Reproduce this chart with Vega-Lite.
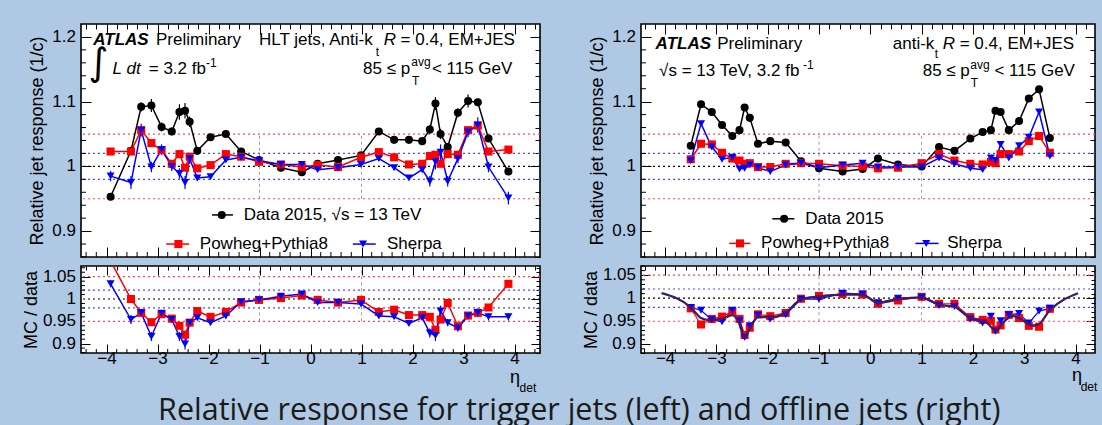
{
  "$schema": "https://vega.github.io/schema/vega-lite/v6.json",
  "background": "#afc8e3",
  "padding": {"left": 22, "top": 22, "right": 8, "bottom": 1},
  "spacing": 40,
  "title": {"text": "Relative response for trigger jets (left) and offline jets (right)", "orient": "bottom", "anchor": "start", "frame": "bounds", "dx": 136, "offset": 1, "font": "Open Sans", "fontSize": 30.5, "fontWeight": "normal", "color": "#1a1a1a"},
  "config": {
    "view": {"fill": "white", "stroke": "black", "strokeWidth": 1.6},
    "axis": {"grid": false, "domain": false, "labelFont": "Liberation Sans", "labelFontSize": 17, "labelColor": "black", "titleFont": "Liberation Sans", "titleFontSize": 18, "titleFontWeight": "normal", "titleColor": "black", "tickColor": "black", "tickWidth": 1, "labelOverlap": false, "labelFlush": false, "labelBound": false},
    "text": {"font": "Liberation Sans", "fontSize": 17, "color": "black", "align": "left", "baseline": "alphabetic"},
    "rule": {"color": "black", "strokeWidth": 1}
  },
  "datasets": {
    "mx": [{"t": -4.4}, {"t": -4.2}, {"t": -3.8}, {"t": -3.6}, {"t": -3.4}, {"t": -3.2}, {"t": -2.8}, {"t": -2.6}, {"t": -2.4}, {"t": -2.2}, {"t": -1.8}, {"t": -1.6}, {"t": -1.4}, {"t": -1.2}, {"t": -0.8}, {"t": -0.6}, {"t": -0.4}, {"t": -0.2}, {"t": 0.2}, {"t": 0.4}, {"t": 0.6}, {"t": 0.8}, {"t": 1.2}, {"t": 1.4}, {"t": 1.6}, {"t": 1.8}, {"t": 2.2}, {"t": 2.4}, {"t": 2.6}, {"t": 2.8}, {"t": 3.2}, {"t": 3.4}, {"t": 3.6}, {"t": 3.8}, {"t": 4.2}, {"t": 4.4}],
    "mxr": [{"t": -4.4}, {"t": -4.2}, {"t": -3.8}, {"t": -3.6}, {"t": -3.4}, {"t": -3.2}, {"t": -2.8}, {"t": -2.6}, {"t": -2.4}, {"t": -2.2}, {"t": -1.8}, {"t": -1.6}, {"t": -1.4}, {"t": -1.2}, {"t": -0.8}, {"t": -0.6}, {"t": -0.4}, {"t": -0.2}, {"t": 0.2}, {"t": 0.4}, {"t": 0.6}, {"t": 0.8}, {"t": 1.2}, {"t": 1.4}, {"t": 1.6}, {"t": 1.8}, {"t": 2.2}, {"t": 2.4}, {"t": 2.6}, {"t": 2.8}, {"t": 3.2}, {"t": 3.4}, {"t": 3.6}, {"t": 3.8}, {"t": 4.2}],
    "myt": [{"t": 0.86}, {"t": 0.88}, {"t": 0.92}, {"t": 0.94}, {"t": 0.96}, {"t": 0.98}, {"t": 1.02}, {"t": 1.04}, {"t": 1.06}, {"t": 1.08}, {"t": 1.12}, {"t": 1.14}, {"t": 1.16}, {"t": 1.18}],
    "myr": [{"t": 0.88}, {"t": 0.89}, {"t": 0.91}, {"t": 0.92}, {"t": 0.93}, {"t": 0.94}, {"t": 0.96}, {"t": 0.97}, {"t": 0.98}, {"t": 0.99}, {"t": 1.01}, {"t": 1.02}, {"t": 1.03}, {"t": 1.04}, {"t": 1.06}, {"t": 1.07}],
    "labt": [{"t": 0.9, "lab": "0.9"}, {"t": 1.0, "lab": "1"}, {"t": 1.1, "lab": "1.1"}, {"t": 1.2, "lab": "1.2"}],
    "labr": [{"t": 0.9, "lab": "0.9"}, {"t": 0.95, "lab": "0.95"}, {"t": 1.0, "lab": "1"}, {"t": 1.05, "lab": "1.05"}],
    "lt": [
      {"eta": -3.92, "series": "data", "val": 0.953, "err": 0.005},
      {"eta": -3.52, "series": "data", "val": 1.024, "err": 0.004},
      {"eta": -3.32, "series": "data", "val": 1.092, "err": 0.007},
      {"eta": -3.12, "series": "data", "val": 1.094, "err": 0.01},
      {"eta": -2.92, "series": "data", "val": 1.061, "err": 0.007},
      {"eta": -2.72, "series": "data", "val": 1.054, "err": 0.006},
      {"eta": -2.57, "series": "data", "val": 1.084, "err": 0.012},
      {"eta": -2.46, "series": "data", "val": 1.086, "err": 0.012},
      {"eta": -2.37, "series": "data", "val": 1.069, "err": 0.008},
      {"eta": -2.22, "series": "data", "val": 1.024, "err": 0.004},
      {"eta": -1.96, "series": "data", "val": 1.045, "err": 0.003},
      {"eta": -1.66, "series": "data", "val": 1.05, "err": 0.003},
      {"eta": -1.36, "series": "data", "val": 1.023, "err": 0.003},
      {"eta": -1.01, "series": "data", "val": 1.01, "err": 0.002},
      {"eta": -0.58, "series": "data", "val": 0.998, "err": 0.002},
      {"eta": -0.17, "series": "data", "val": 0.991, "err": 0.002},
      {"eta": 0.14, "series": "data", "val": 1.004, "err": 0.002},
      {"eta": 0.54, "series": "data", "val": 1.01, "err": 0.002},
      {"eta": 0.99, "series": "data", "val": 1.017, "err": 0.002},
      {"eta": 1.34, "series": "data", "val": 1.054, "err": 0.003},
      {"eta": 1.64, "series": "data", "val": 1.041, "err": 0.003},
      {"eta": 1.93, "series": "data", "val": 1.041, "err": 0.003},
      {"eta": 2.19, "series": "data", "val": 1.039, "err": 0.003},
      {"eta": 2.34, "series": "data", "val": 1.057, "err": 0.007},
      {"eta": 2.45, "series": "data", "val": 1.097, "err": 0.01},
      {"eta": 2.55, "series": "data", "val": 1.05, "err": 0.008},
      {"eta": 2.69, "series": "data", "val": 1.03, "err": 0.006},
      {"eta": 2.89, "series": "data", "val": 1.083, "err": 0.007},
      {"eta": 3.09, "series": "data", "val": 1.101, "err": 0.01},
      {"eta": 3.28, "series": "data", "val": 1.099, "err": 0.006},
      {"eta": 3.49, "series": "data", "val": 1.043, "err": 0.004},
      {"eta": 3.88, "series": "data", "val": 0.992, "err": 0.004},
      {"eta": -3.92, "series": "powheg", "val": 1.023, "err": 0.002},
      {"eta": -3.52, "series": "powheg", "val": 1.023, "err": 0.002},
      {"eta": -3.32, "series": "powheg", "val": 1.056, "err": 0.003},
      {"eta": -3.12, "series": "powheg", "val": 1.036, "err": 0.002},
      {"eta": -2.92, "series": "powheg", "val": 1.025, "err": 0.002},
      {"eta": -2.72, "series": "powheg", "val": 1.004, "err": 0.002},
      {"eta": -2.57, "series": "powheg", "val": 1.019, "err": 0.002},
      {"eta": -2.46, "series": "powheg", "val": 0.998, "err": 0.003},
      {"eta": -2.37, "series": "powheg", "val": 1.015, "err": 0.002},
      {"eta": -2.22, "series": "powheg", "val": 0.997, "err": 0.002},
      {"eta": -1.96, "series": "powheg", "val": 1.002, "err": 0.002},
      {"eta": -1.66, "series": "powheg", "val": 1.019, "err": 0.002},
      {"eta": -1.36, "series": "powheg", "val": 1.015, "err": 0.002},
      {"eta": -1.01, "series": "powheg", "val": 1.007, "err": 0.002},
      {"eta": -0.58, "series": "powheg", "val": 1.003, "err": 0.002},
      {"eta": -0.17, "series": "powheg", "val": 0.999, "err": 0.002},
      {"eta": 0.14, "series": "powheg", "val": 1.002, "err": 0.002},
      {"eta": 0.54, "series": "powheg", "val": 0.999, "err": 0.002},
      {"eta": 0.99, "series": "powheg", "val": 1.014, "err": 0.002},
      {"eta": 1.34, "series": "powheg", "val": 1.022, "err": 0.002},
      {"eta": 1.64, "series": "powheg", "val": 1.014, "err": 0.002},
      {"eta": 1.93, "series": "powheg", "val": 1.003, "err": 0.002},
      {"eta": 2.19, "series": "powheg", "val": 1.004, "err": 0.002},
      {"eta": 2.34, "series": "powheg", "val": 1.016, "err": 0.003},
      {"eta": 2.45, "series": "powheg", "val": 1.018, "err": 0.003},
      {"eta": 2.55, "series": "powheg", "val": 1.004, "err": 0.003},
      {"eta": 2.69, "series": "powheg", "val": 1.019, "err": 0.002},
      {"eta": 2.89, "series": "powheg", "val": 1.018, "err": 0.002},
      {"eta": 3.09, "series": "powheg", "val": 1.056, "err": 0.003},
      {"eta": 3.28, "series": "powheg", "val": 1.063, "err": 0.003},
      {"eta": 3.49, "series": "powheg", "val": 1.023, "err": 0.002},
      {"eta": 3.88, "series": "powheg", "val": 1.026, "err": 0.002},
      {"eta": -3.92, "series": "sherpa", "val": 0.985, "err": 0.008},
      {"eta": -3.52, "series": "sherpa", "val": 0.975, "err": 0.01},
      {"eta": -3.32, "series": "sherpa", "val": 1.056, "err": 0.01},
      {"eta": -3.12, "series": "sherpa", "val": 0.999, "err": 0.008},
      {"eta": -2.92, "series": "sherpa", "val": 1.026, "err": 0.008},
      {"eta": -2.72, "series": "sherpa", "val": 1.0, "err": 0.007},
      {"eta": -2.57, "series": "sherpa", "val": 0.989, "err": 0.008},
      {"eta": -2.46, "series": "sherpa", "val": 0.975, "err": 0.01},
      {"eta": -2.37, "series": "sherpa", "val": 1.012, "err": 0.008},
      {"eta": -2.22, "series": "sherpa", "val": 0.982, "err": 0.004},
      {"eta": -1.96, "series": "sherpa", "val": 0.984, "err": 0.003},
      {"eta": -1.66, "series": "sherpa", "val": 1.01, "err": 0.003},
      {"eta": -1.36, "series": "sherpa", "val": 1.014, "err": 0.003},
      {"eta": -1.01, "series": "sherpa", "val": 1.009, "err": 0.002},
      {"eta": -0.58, "series": "sherpa", "val": 1.003, "err": 0.002},
      {"eta": -0.17, "series": "sherpa", "val": 1.003, "err": 0.002},
      {"eta": 0.14, "series": "sherpa", "val": 0.995, "err": 0.002},
      {"eta": 0.54, "series": "sherpa", "val": 0.998, "err": 0.002},
      {"eta": 0.99, "series": "sherpa", "val": 1.003, "err": 0.002},
      {"eta": 1.34, "series": "sherpa", "val": 1.012, "err": 0.003},
      {"eta": 1.64, "series": "sherpa", "val": 0.998, "err": 0.003},
      {"eta": 1.93, "series": "sherpa", "val": 0.982, "err": 0.003},
      {"eta": 2.19, "series": "sherpa", "val": 0.995, "err": 0.004},
      {"eta": 2.34, "series": "sherpa", "val": 0.977, "err": 0.008},
      {"eta": 2.45, "series": "sherpa", "val": 1.007, "err": 0.012},
      {"eta": 2.55, "series": "sherpa", "val": 1.022, "err": 0.012},
      {"eta": 2.69, "series": "sherpa", "val": 0.977, "err": 0.008},
      {"eta": 2.89, "series": "sherpa", "val": 1.012, "err": 0.007},
      {"eta": 3.09, "series": "sherpa", "val": 1.053, "err": 0.008},
      {"eta": 3.28, "series": "sherpa", "val": 1.064, "err": 0.012},
      {"eta": 3.49, "series": "sherpa", "val": 0.999, "err": 0.008},
      {"eta": 3.88, "series": "sherpa", "val": 0.951, "err": 0.01}
    ],
    "lr": [
      {"eta": -3.92, "series": "powheg", "val": 1.085, "err": 0.005},
      {"eta": -3.52, "series": "powheg", "val": 1.0, "err": 0.005},
      {"eta": -3.32, "series": "powheg", "val": 0.969, "err": 0.005},
      {"eta": -3.12, "series": "powheg", "val": 0.948, "err": 0.006},
      {"eta": -2.92, "series": "powheg", "val": 0.966, "err": 0.005},
      {"eta": -2.72, "series": "powheg", "val": 0.956, "err": 0.005},
      {"eta": -2.57, "series": "powheg", "val": 0.94, "err": 0.007},
      {"eta": -2.46, "series": "powheg", "val": 0.92, "err": 0.009},
      {"eta": -2.37, "series": "powheg", "val": 0.947, "err": 0.006},
      {"eta": -2.22, "series": "powheg", "val": 0.973, "err": 0.004},
      {"eta": -1.96, "series": "powheg", "val": 0.96, "err": 0.003},
      {"eta": -1.66, "series": "powheg", "val": 0.971, "err": 0.003},
      {"eta": -1.36, "series": "powheg", "val": 0.992, "err": 0.003},
      {"eta": -1.01, "series": "powheg", "val": 0.998, "err": 0.003},
      {"eta": -0.58, "series": "powheg", "val": 1.002, "err": 0.003},
      {"eta": -0.17, "series": "powheg", "val": 1.008, "err": 0.003},
      {"eta": 0.14, "series": "powheg", "val": 0.998, "err": 0.003},
      {"eta": 0.54, "series": "powheg", "val": 0.992, "err": 0.003},
      {"eta": 0.99, "series": "powheg", "val": 0.998, "err": 0.003},
      {"eta": 1.34, "series": "powheg", "val": 0.971, "err": 0.003},
      {"eta": 1.64, "series": "powheg", "val": 0.976, "err": 0.003},
      {"eta": 1.93, "series": "powheg", "val": 0.964, "err": 0.003},
      {"eta": 2.19, "series": "powheg", "val": 0.964, "err": 0.004},
      {"eta": 2.34, "series": "powheg", "val": 0.96, "err": 0.006},
      {"eta": 2.45, "series": "powheg", "val": 0.931, "err": 0.008},
      {"eta": 2.55, "series": "powheg", "val": 0.954, "err": 0.007},
      {"eta": 2.69, "series": "powheg", "val": 0.991, "err": 0.006},
      {"eta": 2.89, "series": "powheg", "val": 0.939, "err": 0.006},
      {"eta": 3.09, "series": "powheg", "val": 0.963, "err": 0.007},
      {"eta": 3.28, "series": "powheg", "val": 0.969, "err": 0.006},
      {"eta": 3.49, "series": "powheg", "val": 0.981, "err": 0.004},
      {"eta": 3.88, "series": "powheg", "val": 1.034, "err": 0.004},
      {"eta": -3.92, "series": "sherpa", "val": 1.034, "err": 0.008},
      {"eta": -3.52, "series": "sherpa", "val": 0.954, "err": 0.01},
      {"eta": -3.32, "series": "sherpa", "val": 0.969, "err": 0.006},
      {"eta": -3.12, "series": "sherpa", "val": 0.916, "err": 0.01},
      {"eta": -2.92, "series": "sherpa", "val": 0.968, "err": 0.007},
      {"eta": -2.72, "series": "sherpa", "val": 0.954, "err": 0.007},
      {"eta": -2.57, "series": "sherpa", "val": 0.916, "err": 0.01},
      {"eta": -2.46, "series": "sherpa", "val": 0.899, "err": 0.012},
      {"eta": -2.37, "series": "sherpa", "val": 0.947, "err": 0.008},
      {"eta": -2.22, "series": "sherpa", "val": 0.958, "err": 0.005},
      {"eta": -1.96, "series": "sherpa", "val": 0.947, "err": 0.004},
      {"eta": -1.66, "series": "sherpa", "val": 0.962, "err": 0.004},
      {"eta": -1.36, "series": "sherpa", "val": 0.994, "err": 0.003},
      {"eta": -1.01, "series": "sherpa", "val": 0.998, "err": 0.003},
      {"eta": -0.58, "series": "sherpa", "val": 1.006, "err": 0.003},
      {"eta": -0.17, "series": "sherpa", "val": 1.011, "err": 0.003},
      {"eta": 0.14, "series": "sherpa", "val": 0.992, "err": 0.003},
      {"eta": 0.54, "series": "sherpa", "val": 0.992, "err": 0.003},
      {"eta": 0.99, "series": "sherpa", "val": 0.989, "err": 0.003},
      {"eta": 1.34, "series": "sherpa", "val": 0.962, "err": 0.004},
      {"eta": 1.64, "series": "sherpa", "val": 0.96, "err": 0.004},
      {"eta": 1.93, "series": "sherpa", "val": 0.945, "err": 0.004},
      {"eta": 2.19, "series": "sherpa", "val": 0.958, "err": 0.005},
      {"eta": 2.34, "series": "sherpa", "val": 0.924, "err": 0.01},
      {"eta": 2.45, "series": "sherpa", "val": 0.918, "err": 0.012},
      {"eta": 2.55, "series": "sherpa", "val": 0.973, "err": 0.012},
      {"eta": 2.69, "series": "sherpa", "val": 0.947, "err": 0.008},
      {"eta": 2.89, "series": "sherpa", "val": 0.935, "err": 0.008},
      {"eta": 3.09, "series": "sherpa", "val": 0.962, "err": 0.008},
      {"eta": 3.28, "series": "sherpa", "val": 0.969, "err": 0.01},
      {"eta": 3.49, "series": "sherpa", "val": 0.96, "err": 0.008},
      {"eta": 3.88, "series": "sherpa", "val": 0.96, "err": 0.008}
    ],
    "rt": [
      {"eta": -3.5, "series": "data", "val": 1.032}, {"eta": -3.3, "series": "data", "val": 1.096}, {"eta": -3.09, "series": "data", "val": 1.084}, {"eta": -2.89, "series": "data", "val": 1.064}, {"eta": -2.69, "series": "data", "val": 1.047}, {"eta": -2.55, "series": "data", "val": 1.056}, {"eta": -2.45, "series": "data", "val": 1.091}, {"eta": -2.35, "series": "data", "val": 1.075}, {"eta": -2.19, "series": "data", "val": 1.035}, {"eta": -1.95, "series": "data", "val": 1.039}, {"eta": -1.65, "series": "data", "val": 1.037}, {"eta": -1.35, "series": "data", "val": 1.008}, {"eta": -1.0, "series": "data", "val": 0.997}, {"eta": -0.54, "series": "data", "val": 0.992}, {"eta": -0.15, "series": "data", "val": 0.996}, {"eta": 0.15, "series": "data", "val": 1.012}, {"eta": 0.54, "series": "data", "val": 1.003}, {"eta": 1.0, "series": "data", "val": 1.0}, {"eta": 1.34, "series": "data", "val": 1.03}, {"eta": 1.64, "series": "data", "val": 1.024}, {"eta": 1.95, "series": "data", "val": 1.043}, {"eta": 2.19, "series": "data", "val": 1.053}, {"eta": 2.35, "series": "data", "val": 1.056}, {"eta": 2.44, "series": "data", "val": 1.086}, {"eta": 2.54, "series": "data", "val": 1.084}, {"eta": 2.7, "series": "data", "val": 1.056}, {"eta": 2.9, "series": "data", "val": 1.07}, {"eta": 3.09, "series": "data", "val": 1.105}, {"eta": 3.29, "series": "data", "val": 1.119}, {"eta": 3.5, "series": "data", "val": 1.044},
      {"eta": -3.5, "series": "powheg", "val": 1.011}, {"eta": -3.3, "series": "powheg", "val": 1.035}, {"eta": -3.09, "series": "powheg", "val": 1.034}, {"eta": -2.89, "series": "powheg", "val": 1.021}, {"eta": -2.69, "series": "powheg", "val": 1.012}, {"eta": -2.55, "series": "powheg", "val": 1.009}, {"eta": -2.45, "series": "powheg", "val": 1.004}, {"eta": -2.35, "series": "powheg", "val": 1.005}, {"eta": -2.19, "series": "powheg", "val": 0.999}, {"eta": -1.95, "series": "powheg", "val": 0.999}, {"eta": -1.65, "series": "powheg", "val": 1.004}, {"eta": -1.35, "series": "powheg", "val": 1.005}, {"eta": -1.0, "series": "powheg", "val": 1.004}, {"eta": -0.54, "series": "powheg", "val": 1.001}, {"eta": -0.15, "series": "powheg", "val": 1.0}, {"eta": 0.15, "series": "powheg", "val": 0.997}, {"eta": 0.54, "series": "powheg", "val": 0.998}, {"eta": 1.0, "series": "powheg", "val": 1.005}, {"eta": 1.34, "series": "powheg", "val": 1.019}, {"eta": 1.64, "series": "powheg", "val": 1.009}, {"eta": 1.95, "series": "powheg", "val": 1.004}, {"eta": 2.19, "series": "powheg", "val": 1.003}, {"eta": 2.35, "series": "powheg", "val": 1.007}, {"eta": 2.44, "series": "powheg", "val": 1.005}, {"eta": 2.54, "series": "powheg", "val": 1.019}, {"eta": 2.7, "series": "powheg", "val": 1.019}, {"eta": 2.9, "series": "powheg", "val": 1.023}, {"eta": 3.09, "series": "powheg", "val": 1.039}, {"eta": 3.29, "series": "powheg", "val": 1.047}, {"eta": 3.5, "series": "powheg", "val": 1.021},
      {"eta": -3.5, "series": "sherpa", "val": 1.009}, {"eta": -3.3, "series": "sherpa", "val": 1.066}, {"eta": -3.09, "series": "sherpa", "val": 1.03}, {"eta": -2.89, "series": "sherpa", "val": 1.011}, {"eta": -2.69, "series": "sherpa", "val": 1.014}, {"eta": -2.55, "series": "sherpa", "val": 0.996}, {"eta": -2.45, "series": "sherpa", "val": 0.997}, {"eta": -2.35, "series": "sherpa", "val": 1.002}, {"eta": -2.19, "series": "sherpa", "val": 0.998}, {"eta": -1.95, "series": "sherpa", "val": 0.992}, {"eta": -1.65, "series": "sherpa", "val": 1.002}, {"eta": -1.35, "series": "sherpa", "val": 1.005}, {"eta": -1.0, "series": "sherpa", "val": 0.998}, {"eta": -0.54, "series": "sherpa", "val": 1.002}, {"eta": -0.15, "series": "sherpa", "val": 1.005}, {"eta": 0.15, "series": "sherpa", "val": 0.999}, {"eta": 0.54, "series": "sherpa", "val": 0.999}, {"eta": 1.0, "series": "sherpa", "val": 0.999}, {"eta": 1.34, "series": "sherpa", "val": 1.013}, {"eta": 1.64, "series": "sherpa", "val": 1.004}, {"eta": 1.95, "series": "sherpa", "val": 0.997}, {"eta": 2.19, "series": "sherpa", "val": 0.995}, {"eta": 2.35, "series": "sherpa", "val": 1.013}, {"eta": 2.44, "series": "sherpa", "val": 1.009}, {"eta": 2.54, "series": "sherpa", "val": 1.034}, {"eta": 2.7, "series": "sherpa", "val": 1.013}, {"eta": 2.9, "series": "sherpa", "val": 1.032}, {"eta": 3.09, "series": "sherpa", "val": 1.045}, {"eta": 3.29, "series": "sherpa", "val": 1.084}, {"eta": 3.5, "series": "sherpa", "val": 1.016}
    ],
    "rr": [
      {"eta": -3.5, "series": "powheg", "val": 0.978}, {"eta": -3.3, "series": "powheg", "val": 0.943}, {"eta": -3.09, "series": "powheg", "val": 0.955}, {"eta": -2.89, "series": "powheg", "val": 0.96}, {"eta": -2.69, "series": "powheg", "val": 0.971}, {"eta": -2.55, "series": "powheg", "val": 0.955}, {"eta": -2.45, "series": "powheg", "val": 0.92}, {"eta": -2.35, "series": "powheg", "val": 0.936}, {"eta": -2.19, "series": "powheg", "val": 0.965}, {"eta": -1.95, "series": "powheg", "val": 0.961}, {"eta": -1.65, "series": "powheg", "val": 0.968}, {"eta": -1.35, "series": "powheg", "val": 0.999}, {"eta": -1.0, "series": "powheg", "val": 1.005}, {"eta": -0.54, "series": "powheg", "val": 1.009}, {"eta": -0.15, "series": "powheg", "val": 1.008}, {"eta": 0.15, "series": "powheg", "val": 0.988}, {"eta": 0.54, "series": "powheg", "val": 0.995}, {"eta": 1.0, "series": "powheg", "val": 1.003}, {"eta": 1.34, "series": "powheg", "val": 0.988}, {"eta": 1.64, "series": "powheg", "val": 0.988}, {"eta": 1.95, "series": "powheg", "val": 0.959}, {"eta": 2.19, "series": "powheg", "val": 0.953}, {"eta": 2.35, "series": "powheg", "val": 0.951}, {"eta": 2.44, "series": "powheg", "val": 0.932}, {"eta": 2.54, "series": "powheg", "val": 0.941}, {"eta": 2.7, "series": "powheg", "val": 0.964}, {"eta": 2.9, "series": "powheg", "val": 0.957}, {"eta": 3.09, "series": "powheg", "val": 0.94}, {"eta": 3.29, "series": "powheg", "val": 0.938}, {"eta": 3.5, "series": "powheg", "val": 0.977},
      {"eta": -3.5, "series": "sherpa", "val": 0.98}, {"eta": -3.3, "series": "sherpa", "val": 0.974}, {"eta": -3.09, "series": "sherpa", "val": 0.953}, {"eta": -2.89, "series": "sherpa", "val": 0.949}, {"eta": -2.69, "series": "sherpa", "val": 0.974}, {"eta": -2.55, "series": "sherpa", "val": 0.951}, {"eta": -2.45, "series": "sherpa", "val": 0.915}, {"eta": -2.35, "series": "sherpa", "val": 0.94}, {"eta": -2.19, "series": "sherpa", "val": 0.963}, {"eta": -1.95, "series": "sherpa", "val": 0.955}, {"eta": -1.65, "series": "sherpa", "val": 0.964}, {"eta": -1.35, "series": "sherpa", "val": 0.998}, {"eta": -1.0, "series": "sherpa", "val": 0.998}, {"eta": -0.54, "series": "sherpa", "val": 1.011}, {"eta": -0.15, "series": "sherpa", "val": 1.009}, {"eta": 0.15, "series": "sherpa", "val": 0.99}, {"eta": 0.54, "series": "sherpa", "val": 1.0}, {"eta": 1.0, "series": "sherpa", "val": 1.002}, {"eta": 1.34, "series": "sherpa", "val": 0.984}, {"eta": 1.64, "series": "sherpa", "val": 0.982}, {"eta": 1.95, "series": "sherpa", "val": 0.955}, {"eta": 2.19, "series": "sherpa", "val": 0.946}, {"eta": 2.35, "series": "sherpa", "val": 0.961}, {"eta": 2.44, "series": "sherpa", "val": 0.928}, {"eta": 2.54, "series": "sherpa", "val": 0.951}, {"eta": 2.7, "series": "sherpa", "val": 0.964}, {"eta": 2.9, "series": "sherpa", "val": 0.967}, {"eta": 3.09, "series": "sherpa", "val": 0.946}, {"eta": 3.29, "series": "sherpa", "val": 0.972}, {"eta": 3.5, "series": "sherpa", "val": 0.978}
    ],
    "rfit": [
      {"eta": -4.07, "val": 1.011}, {"eta": -3.5, "val": 0.98}, {"eta": -3.3, "val": 0.957}, {"eta": -3.17, "val": 0.953}, {"eta": -2.89, "val": 0.955}, {"eta": -2.69, "val": 0.963}, {"eta": -2.58, "val": 0.951}, {"eta": -2.45, "val": 0.916}, {"eta": -2.32, "val": 0.94}, {"eta": -2.19, "val": 0.959}, {"eta": -1.93, "val": 0.959}, {"eta": -1.67, "val": 0.967}, {"eta": -1.34, "val": 0.998}, {"eta": -0.99, "val": 1.004}, {"eta": -0.54, "val": 1.008}, {"eta": -0.15, "val": 1.008}, {"eta": 0.14, "val": 0.99}, {"eta": 0.54, "val": 0.998}, {"eta": 1.0, "val": 1.002}, {"eta": 1.34, "val": 0.986}, {"eta": 1.63, "val": 0.982}, {"eta": 1.95, "val": 0.957}, {"eta": 2.25, "val": 0.949}, {"eta": 2.45, "val": 0.929}, {"eta": 2.58, "val": 0.946}, {"eta": 2.78, "val": 0.961}, {"eta": 2.97, "val": 0.953}, {"eta": 3.14, "val": 0.941}, {"eta": 3.27, "val": 0.943}, {"eta": 3.5, "val": 0.974}, {"eta": 4.05, "val": 1.011}
    ],
    "legl": [
      {"series": "data", "eta": -1.93, "eta2": -1.52, "mid": -1.74, "val": 0.925, "tx": -1.31, "label": "Data 2015, √s = 13 TeV"},
      {"series": "powheg", "eta": -2.83, "eta2": -2.38, "mid": -2.59, "val": 0.88, "tx": -2.17, "label": "Powheg+Pythia8"},
      {"series": "sherpa", "eta": 0.83, "eta2": 1.28, "mid": 1.03, "val": 0.88, "tx": 1.5, "label": "Sherpa"}
    ],
    "legr": [
      {"series": "data", "eta": -1.91, "eta2": -1.48, "mid": -1.68, "val": 0.919, "tx": -1.27, "label": "Data 2015"},
      {"series": "powheg", "eta": -2.75, "eta2": -2.34, "mid": -2.54, "val": 0.881, "tx": -2.13, "label": "Powheg+Pythia8"},
      {"series": "sherpa", "eta": 0.88, "eta2": 1.33, "mid": 1.09, "val": 0.881, "tx": 1.5, "label": "Sherpa"}
    ]
  },
  "hconcat": [
    {
      "spacing": 9,
      "bounds": "flush",
      "vconcat": [
        {
          "width": 459, "height": 233,
          "layer": [
            {
              "layer": [
                {"data": {"values": [{"val": 1.05}, {"val": 0.95}]}, "mark": {"type": "rule", "color": "#ff4a4a", "strokeDash": [2, 3], "strokeWidth": 1.2},
                 "encoding": {"y": {"field": "val", "type": "quantitative", "scale": {"domain": [0.86, 1.22], "nice": false, "zero": false},
                   "axis": {"orient": "left", "title": "Relative jet response (1/c)", "titlePadding": 16, "labelPadding": 5, "labelOpacity": 0,
                     "values": [0.9, 1, 1.1, 1.2], "labelExpr": "format(datum.value,'~g')", "tickSize": -10}}}},
                {"data": {"values": [{"val": 1.02}, {"val": 0.98}]}, "mark": {"type": "rule", "color": "#4a4aff", "strokeDash": [2, 3], "strokeWidth": 1.2},
                 "encoding": {"y": {"field": "val", "type": "quantitative"}}},
                {"data": {"values": [{"val": 1.0}]}, "mark": {"type": "rule", "color": "#000000", "strokeDash": [2, 3], "strokeWidth": 1.2},
                 "encoding": {"y": {"field": "val", "type": "quantitative"}}},
                {"data": {"values": [{"eta": -1}, {"eta": 1}]}, "mark": {"type": "rule", "color": "#888888", "strokeDash": [3, 3], "strokeWidth": 0.8},
                 "encoding": {"x": {"field": "eta", "type": "quantitative", "scale": {"domain": [-4.5, 4.5], "nice": false, "zero": false},
                   "axis": {"orient": "bottom", "title": null, "labels": false, "values": [-4, -3, -2, -1, 0, 1, 2, 3, 4], "tickSize": -10}},
                   "y": {"datum": 0.95, "type": "quantitative"}, "y2": {"datum": 1.05}}},
                {"data": {"name": "mx"}, "mark": {"type": "rule"},
                 "encoding": {"x": {"field": "t", "type": "quantitative"}, "y": {"datum": 0.86, "type": "quantitative"}, "y2": {"datum": 0.8677}}},
                {"data": {"name": "myt"}, "mark": {"type": "rule"},
                 "encoding": {"y": {"field": "t", "type": "quantitative"}, "x": {"datum": -4.5, "type": "quantitative"}, "x2": {"datum": -4.402}}},
                {"data": {"name": "labt"}, "mark": {"type": "text", "align": "right", "baseline": "middle", "dx": -5},
                 "encoding": {"y": {"field": "t", "type": "quantitative"}, "x": {"datum": -4.5, "type": "quantitative"}, "text": {"field": "lab"}}},
                {"data": {"name": "lt"}, "mark": {"type": "errorbar", "thickness": 1.2},
                 "encoding": {"x": {"field": "eta", "type": "quantitative", "title": null}, "y": {"field": "val", "type": "quantitative", "title": "Relative jet response (1/c)"}, "yError": {"field": "err"},
                   "color": {"field": "series", "type": "nominal", "scale": {"domain": ["data", "powheg", "sherpa"], "range": ["#000000", "#ff0000", "#0000ff"]}, "legend": null}}},
                {"data": {"name": "lt"}, "mark": {"type": "line", "strokeWidth": 1.5},
                 "encoding": {"x": {"field": "eta", "type": "quantitative"}, "y": {"field": "val", "type": "quantitative"},
                   "color": {"field": "series", "type": "nominal", "scale": {"domain": ["data", "powheg", "sherpa"], "range": ["#000000", "#ff0000", "#0000ff"]}, "legend": null}}},
                {"data": {"name": "lt"}, "mark": {"type": "point", "filled": true, "size": 65, "opacity": 1},
                 "encoding": {"x": {"field": "eta", "type": "quantitative"}, "y": {"field": "val", "type": "quantitative"},
                   "color": {"field": "series", "type": "nominal", "scale": {"domain": ["data", "powheg", "sherpa"], "range": ["#000000", "#ff0000", "#0000ff"]}, "legend": null},
                   "shape": {"field": "series", "type": "nominal", "scale": {"domain": ["data", "powheg", "sherpa"], "range": ["circle", "square", "triangle-down"]}, "legend": null}}},
                {"data": {"name": "legl"}, "mark": {"type": "rule", "strokeWidth": 1.5},
                 "encoding": {"x": {"field": "eta", "type": "quantitative"}, "x2": {"field": "eta2"}, "y": {"field": "val", "type": "quantitative"},
                   "color": {"field": "series", "type": "nominal", "scale": {"domain": ["data", "powheg", "sherpa"], "range": ["#000000", "#ff0000", "#0000ff"]}, "legend": null}}},
                {"data": {"name": "legl"}, "mark": {"type": "point", "filled": true, "size": 65, "opacity": 1},
                 "encoding": {"x": {"field": "mid", "type": "quantitative"}, "y": {"field": "val", "type": "quantitative"},
                   "color": {"field": "series", "type": "nominal", "scale": {"domain": ["data", "powheg", "sherpa"], "range": ["#000000", "#ff0000", "#0000ff"]}, "legend": null},
                   "shape": {"field": "series", "type": "nominal", "scale": {"domain": ["data", "powheg", "sherpa"], "range": ["circle", "square", "triangle-down"]}, "legend": null}}},
                {"data": {"name": "legl"}, "mark": {"type": "text", "baseline": "middle"},
                 "encoding": {"x": {"field": "tx", "type": "quantitative"}, "y": {"field": "val", "type": "quantitative"}, "text": {"field": "label"}}},
                {"data": {"values": [{"eta": -4.26, "val": 1.188, "t": "ATLAS"}]}, "mark": {"type": "text", "fontWeight": "bold", "fontStyle": "italic"},
                 "encoding": {"x": {"field": "eta", "type": "quantitative"}, "y": {"field": "val", "type": "quantitative"}, "text": {"field": "t"}}},
                {"data": {"values": [{"eta": -3.03, "val": 1.188, "t": "Preliminary"}, {"eta": -1.01, "val": 1.188, "t": "HLT jets, Anti-k"}, {"eta": 1.766, "val": 1.188, "t": "= 0.4, EM+JES"}, {"eta": -3.172, "val": 1.143, "t": "= 3.2 fb"}, {"eta": 1.03, "val": 1.143, "t": "85 ≤ p"}, {"eta": 2.38, "val": 1.143, "t": "< 115 GeV"}]},
                 "mark": {"type": "text"},
                 "encoding": {"x": {"field": "eta", "type": "quantitative"}, "y": {"field": "val", "type": "quantitative"}, "text": {"field": "t"}}},
                {"data": {"values": [{"eta": 1.438, "val": 1.188, "t": "R"}, {"eta": -3.88, "val": 1.143, "t": "L dt"}]},
                 "mark": {"type": "text", "fontStyle": "italic"},
                 "encoding": {"x": {"field": "eta", "type": "quantitative"}, "y": {"field": "val", "type": "quantitative"}, "text": {"field": "t"}}},
                {"data": {"values": [{"eta": 1.28, "val": 1.171, "t": "t"}, {"eta": -2.05, "val": 1.154, "t": "-1"}, {"eta": 1.975, "val": 1.155, "t": "avg"}, {"eta": 1.99, "val": 1.125, "t": "T"}]},
                 "mark": {"type": "text", "fontSize": 12},
                 "encoding": {"x": {"field": "eta", "type": "quantitative"}, "y": {"field": "val", "type": "quantitative"}, "text": {"field": "t"}}},
                {"data": {"values": [{"eta": -4.155, "val": 1.158, "t": "∫"}]},
                 "mark": {"type": "text", "font": "DejaVu Sans", "fontSize": 38, "align": "center", "baseline": "middle"},
                 "encoding": {"x": {"field": "eta", "type": "quantitative"}, "y": {"field": "val", "type": "quantitative"}, "text": {"field": "t"}}}
              ]
            },
            {
              "data": {"values": [{"eta": 0, "val": 1}]}, "mark": {"type": "point", "opacity": 0},
              "encoding": {
                "x": {"field": "eta", "type": "quantitative", "axis": {"orient": "top", "title": null, "labels": false,
                  "values": [-4.4,-4.2,-4,-3.8,-3.6,-3.4,-3.2,-3,-2.8,-2.6,-2.4,-2.2,-2,-1.8,-1.6,-1.4,-1.2,-1,-0.8,-0.6,-0.4,-0.2,0,0.2,0.4,0.6,0.8,1,1.2,1.4,1.6,1.8,2,2.2,2.4,2.6,2.8,3,3.2,3.4,3.6,3.8,4,4.2,4.4],
                  "tickSize": {"condition": {"test": "abs(datum.value-round(datum.value))<1e-6", "value": -10}, "value": -5}}},
                "y": {"field": "val", "type": "quantitative", "axis": {"orient": "right", "title": null, "labels": false,
                  "values": [0.86,0.88,0.9,0.92,0.94,0.96,0.98,1,1.02,1.04,1.06,1.08,1.1,1.12,1.14,1.16,1.18,1.2],
                  "tickSize": {"condition": {"test": "abs(datum.value*10-round(datum.value*10))<1e-6", "value": -10}, "value": -5}}}
              }
            }
          ],
          "resolve": {"axis": {"x": "independent", "y": "independent"}}
        },
        {
          "width": 459, "height": 87,
          "layer": [
            {
              "layer": [
                {"data": {"values": [{"val": 1.05}, {"val": 0.95}]}, "mark": {"type": "rule", "color": "#ff4a4a", "strokeDash": [2, 3], "strokeWidth": 1.2},
                 "encoding": {"y": {"field": "val", "type": "quantitative", "scale": {"domain": [0.879, 1.074], "nice": false, "zero": false},
                   "axis": {"orient": "left", "title": "MC / data", "titlePadding": 11, "labelPadding": 5, "labelOpacity": 0,
                     "values": [0.9, 0.95, 1, 1.05], "labelExpr": "format(datum.value,'~g')", "tickSize": -9}}}},
                {"data": {"values": [{"val": 1.02}, {"val": 0.98}]}, "mark": {"type": "rule", "color": "#4a4aff", "strokeDash": [2, 3], "strokeWidth": 1.2},
                 "encoding": {"y": {"field": "val", "type": "quantitative"}}},
                {"data": {"values": [{"val": 1.0}]}, "mark": {"type": "rule", "color": "#000000", "strokeDash": [2, 3], "strokeWidth": 1.2},
                 "encoding": {"y": {"field": "val", "type": "quantitative"}}},
                {"data": {"values": [{"eta": -1}, {"eta": 1}]}, "mark": {"type": "rule", "color": "#888888", "strokeDash": [3, 3], "strokeWidth": 0.8},
                 "encoding": {"x": {"field": "eta", "type": "quantitative", "scale": {"domain": [-4.5, 4.5], "nice": false, "zero": false},
                   "axis": {"orient": "bottom", "title": null, "labelPadding": 6, "values": [-4, -3, -2, -1, 0, 1, 2, 3, 4], "labelExpr": "format(datum.value,'d')", "tickSize": -9}},
                   "y": {"datum": 0.95, "type": "quantitative"}, "y2": {"datum": 1.074}}},
                {"data": {"name": "mx"}, "mark": {"type": "rule"},
                 "encoding": {"x": {"field": "t", "type": "quantitative"}, "y": {"datum": 0.879, "type": "quantitative"}, "y2": {"datum": 0.888}}},
                {"data": {"name": "myr"}, "mark": {"type": "rule"},
                 "encoding": {"y": {"field": "t", "type": "quantitative"}, "x": {"datum": -4.5, "type": "quantitative"}, "x2": {"datum": -4.4216}}},
                {"data": {"name": "labr"}, "mark": {"type": "text", "align": "right", "baseline": "middle", "dx": -5},
                 "encoding": {"y": {"field": "t", "type": "quantitative"}, "x": {"datum": -4.5, "type": "quantitative"}, "text": {"field": "lab"}}},
                {"data": {"name": "lr"}, "mark": {"type": "errorbar", "thickness": 1.2, "clip": true},
                 "encoding": {"x": {"field": "eta", "type": "quantitative", "title": null}, "y": {"field": "val", "type": "quantitative", "title": "MC / data"}, "yError": {"field": "err"},
                   "color": {"field": "series", "type": "nominal", "scale": {"domain": ["data", "powheg", "sherpa"], "range": ["#000000", "#ff0000", "#0000ff"]}, "legend": null}}},
                {"data": {"name": "lr"}, "mark": {"type": "line", "strokeWidth": 1.5, "clip": true},
                 "encoding": {"x": {"field": "eta", "type": "quantitative"}, "y": {"field": "val", "type": "quantitative"},
                   "color": {"field": "series", "type": "nominal", "scale": {"domain": ["data", "powheg", "sherpa"], "range": ["#000000", "#ff0000", "#0000ff"]}, "legend": null}}},
                {"data": {"name": "lr"}, "mark": {"type": "point", "filled": true, "size": 65, "opacity": 1, "clip": true},
                 "encoding": {"x": {"field": "eta", "type": "quantitative"}, "y": {"field": "val", "type": "quantitative"},
                   "color": {"field": "series", "type": "nominal", "scale": {"domain": ["data", "powheg", "sherpa"], "range": ["#000000", "#ff0000", "#0000ff"]}, "legend": null},
                   "shape": {"field": "series", "type": "nominal", "scale": {"domain": ["data", "powheg", "sherpa"], "range": ["circle", "square", "triangle-down"]}, "legend": null}}},
                {"data": {"values": [{"eta": 4.01, "val": 0.822, "t": "η"}]}, "mark": {"type": "text", "fontSize": 18, "align": "center", "baseline": "middle"},
                 "encoding": {"x": {"field": "eta", "type": "quantitative"}, "y": {"field": "val", "type": "quantitative"}, "text": {"field": "t"}}},
                {"data": {"values": [{"eta": 4.1, "val": 0.8, "t": "det"}]}, "mark": {"type": "text", "fontSize": 12, "align": "left", "baseline": "middle"},
                 "encoding": {"x": {"field": "eta", "type": "quantitative"}, "y": {"field": "val", "type": "quantitative"}, "text": {"field": "t"}}}
              ]
            },
            {
              "data": {"values": [{"eta": 0, "val": 1}]}, "mark": {"type": "point", "opacity": 0},
              "encoding": {
                "x": {"field": "eta", "type": "quantitative", "axis": {"orient": "top", "title": null, "labels": false,
                  "values": [-4.4,-4.2,-4,-3.8,-3.6,-3.4,-3.2,-3,-2.8,-2.6,-2.4,-2.2,-2,-1.8,-1.6,-1.4,-1.2,-1,-0.8,-0.6,-0.4,-0.2,0,0.2,0.4,0.6,0.8,1,1.2,1.4,1.6,1.8,2,2.2,2.4,2.6,2.8,3,3.2,3.4,3.6,3.8,4,4.2,4.4],
                  "tickSize": {"condition": {"test": "abs(datum.value-round(datum.value))<1e-6", "value": -9}, "value": -4}}},
                "y": {"field": "val", "type": "quantitative", "axis": {"orient": "right", "title": null, "labels": false,
                  "values": [0.88,0.89,0.9,0.91,0.92,0.93,0.94,0.95,0.96,0.97,0.98,0.99,1,1.01,1.02,1.03,1.04,1.05,1.06,1.07],
                  "tickSize": {"condition": {"test": "abs(datum.value*20-round(datum.value*20))<1e-6", "value": -9}, "value": -4}}}
              }
            }
          ],
          "resolve": {"axis": {"x": "independent", "y": "independent"}}
        }
      ]
    },
    {
      "spacing": 9,
      "bounds": "flush",
      "vconcat": [
        {
          "width": 454, "height": 233,
          "layer": [
            {
              "layer": [
                {"data": {"values": [{"val": 1.05}, {"val": 0.95}]}, "mark": {"type": "rule", "color": "#ff4a4a", "strokeDash": [2, 3], "strokeWidth": 1.2},
                 "encoding": {"y": {"field": "val", "type": "quantitative", "scale": {"domain": [0.86, 1.22], "nice": false, "zero": false},
                   "axis": {"orient": "left", "title": "Relative jet response (1/c)", "titlePadding": 16, "labelPadding": 5, "labelOpacity": 0,
                     "values": [0.9, 1, 1.1, 1.2], "labelExpr": "format(datum.value,'~g')", "tickSize": -10}}}},
                {"data": {"values": [{"val": 1.02}, {"val": 0.98}]}, "mark": {"type": "rule", "color": "#4a4aff", "strokeDash": [2, 3], "strokeWidth": 1.2},
                 "encoding": {"y": {"field": "val", "type": "quantitative"}}},
                {"data": {"values": [{"val": 1.0}]}, "mark": {"type": "rule", "color": "#000000", "strokeDash": [2, 3], "strokeWidth": 1.2},
                 "encoding": {"y": {"field": "val", "type": "quantitative"}}},
                {"data": {"values": [{"eta": -1}, {"eta": 1}]}, "mark": {"type": "rule", "color": "#888888", "strokeDash": [3, 3], "strokeWidth": 0.8},
                 "encoding": {"x": {"field": "eta", "type": "quantitative", "scale": {"domain": [-4.47, 4.38], "nice": false, "zero": false},
                   "axis": {"orient": "bottom", "title": null, "labels": false, "values": [-4, -3, -2, -1, 0, 1, 2, 3, 4], "tickSize": -10}},
                   "y": {"datum": 0.95, "type": "quantitative"}, "y2": {"datum": 1.05}}},
                {"data": {"name": "mxr"}, "mark": {"type": "rule"},
                 "encoding": {"x": {"field": "t", "type": "quantitative"}, "y": {"datum": 0.86, "type": "quantitative"}, "y2": {"datum": 0.8677}}},
                {"data": {"name": "myt"}, "mark": {"type": "rule"},
                 "encoding": {"y": {"field": "t", "type": "quantitative"}, "x": {"datum": -4.47, "type": "quantitative"}, "x2": {"datum": -4.3725}}},
                {"data": {"name": "labt"}, "mark": {"type": "text", "align": "right", "baseline": "middle", "dx": -5},
                 "encoding": {"y": {"field": "t", "type": "quantitative"}, "x": {"datum": -4.47, "type": "quantitative"}, "text": {"field": "lab"}}},
                {"data": {"name": "rt"}, "mark": {"type": "line", "strokeWidth": 1.5},
                 "encoding": {"x": {"field": "eta", "type": "quantitative"}, "y": {"field": "val", "type": "quantitative"},
                   "color": {"field": "series", "type": "nominal", "scale": {"domain": ["data", "powheg", "sherpa"], "range": ["#000000", "#ff0000", "#0000ff"]}, "legend": null}}},
                {"data": {"name": "rt"}, "mark": {"type": "point", "filled": true, "size": 65, "opacity": 1},
                 "encoding": {"x": {"field": "eta", "type": "quantitative"}, "y": {"field": "val", "type": "quantitative"},
                   "color": {"field": "series", "type": "nominal", "scale": {"domain": ["data", "powheg", "sherpa"], "range": ["#000000", "#ff0000", "#0000ff"]}, "legend": null},
                   "shape": {"field": "series", "type": "nominal", "scale": {"domain": ["data", "powheg", "sherpa"], "range": ["circle", "square", "triangle-down"]}, "legend": null}}},
                {"data": {"name": "legr"}, "mark": {"type": "rule", "strokeWidth": 1.5},
                 "encoding": {"x": {"field": "eta", "type": "quantitative"}, "x2": {"field": "eta2"}, "y": {"field": "val", "type": "quantitative"},
                   "color": {"field": "series", "type": "nominal", "scale": {"domain": ["data", "powheg", "sherpa"], "range": ["#000000", "#ff0000", "#0000ff"]}, "legend": null}}},
                {"data": {"name": "legr"}, "mark": {"type": "point", "filled": true, "size": 65, "opacity": 1},
                 "encoding": {"x": {"field": "mid", "type": "quantitative"}, "y": {"field": "val", "type": "quantitative"},
                   "color": {"field": "series", "type": "nominal", "scale": {"domain": ["data", "powheg", "sherpa"], "range": ["#000000", "#ff0000", "#0000ff"]}, "legend": null},
                   "shape": {"field": "series", "type": "nominal", "scale": {"domain": ["data", "powheg", "sherpa"], "range": ["circle", "square", "triangle-down"]}, "legend": null}}},
                {"data": {"name": "legr"}, "mark": {"type": "text", "baseline": "middle"},
                 "encoding": {"x": {"field": "tx", "type": "quantitative"}, "y": {"field": "val", "type": "quantitative"}, "text": {"field": "label"}}},
                {"data": {"values": [{"eta": -4.185, "val": 1.182, "t": "ATLAS"}]}, "mark": {"type": "text", "fontWeight": "bold", "fontStyle": "italic"},
                 "encoding": {"x": {"field": "eta", "type": "quantitative"}, "y": {"field": "val", "type": "quantitative"}, "text": {"field": "t"}}},
                {"data": {"values": [{"eta": -2.986, "val": 1.182, "t": "Preliminary"}, {"eta": 0.438, "val": 1.182, "t": "anti-k"}, {"eta": 1.743, "val": 1.182, "t": "= 0.4, EM+JES"}, {"eta": -4.117, "val": 1.139, "t": "√s = 13 TeV, 3.2 fb"}, {"eta": 1.021, "val": 1.139, "t": "85 ≤ p"}, {"eta": 2.42, "val": 1.139, "t": "< 115 GeV"}]},
                 "mark": {"type": "text"},
                 "encoding": {"x": {"field": "eta", "type": "quantitative"}, "y": {"field": "val", "type": "quantitative"}, "text": {"field": "t"}}},
                {"data": {"values": [{"eta": 1.411, "val": 1.182, "t": "R"}]},
                 "mark": {"type": "text", "fontStyle": "italic"},
                 "encoding": {"x": {"field": "eta", "type": "quantitative"}, "y": {"field": "val", "type": "quantitative"}, "text": {"field": "t"}}},
                {"data": {"values": [{"eta": 1.255, "val": 1.167, "t": "t"}, {"eta": -1.31, "val": 1.151, "t": "-1"}, {"eta": 1.95, "val": 1.151, "t": "avg"}, {"eta": 1.96, "val": 1.122, "t": "T"}]},
                 "mark": {"type": "text", "fontSize": 12},
                 "encoding": {"x": {"field": "eta", "type": "quantitative"}, "y": {"field": "val", "type": "quantitative"}, "text": {"field": "t"}}}
              ]
            },
            {
              "data": {"values": [{"eta": 0, "val": 1}]}, "mark": {"type": "point", "opacity": 0},
              "encoding": {
                "x": {"field": "eta", "type": "quantitative", "axis": {"orient": "top", "title": null, "labels": false,
                  "values": [-4.4,-4.2,-4,-3.8,-3.6,-3.4,-3.2,-3,-2.8,-2.6,-2.4,-2.2,-2,-1.8,-1.6,-1.4,-1.2,-1,-0.8,-0.6,-0.4,-0.2,0,0.2,0.4,0.6,0.8,1,1.2,1.4,1.6,1.8,2,2.2,2.4,2.6,2.8,3,3.2,3.4,3.6,3.8,4,4.2],
                  "tickSize": {"condition": {"test": "abs(datum.value-round(datum.value))<1e-6", "value": -10}, "value": -5}}},
                "y": {"field": "val", "type": "quantitative", "axis": {"orient": "right", "title": null, "labels": false,
                  "values": [0.86,0.88,0.9,0.92,0.94,0.96,0.98,1,1.02,1.04,1.06,1.08,1.1,1.12,1.14,1.16,1.18,1.2],
                  "tickSize": {"condition": {"test": "abs(datum.value*10-round(datum.value*10))<1e-6", "value": -10}, "value": -5}}}
              }
            }
          ],
          "resolve": {"axis": {"x": "independent", "y": "independent"}}
        },
        {
          "width": 454, "height": 87,
          "layer": [
            {
              "layer": [
                {"data": {"values": [{"val": 1.05}, {"val": 0.95}]}, "mark": {"type": "rule", "color": "#ff4a4a", "strokeDash": [2, 3], "strokeWidth": 1.2},
                 "encoding": {"y": {"field": "val", "type": "quantitative", "scale": {"domain": [0.881, 1.07], "nice": false, "zero": false},
                   "axis": {"orient": "left", "title": "MC / data", "titlePadding": 11, "labelPadding": 5, "labelOpacity": 0,
                     "values": [0.9, 0.95, 1, 1.05], "labelExpr": "format(datum.value,'~g')", "tickSize": -9}}}},
                {"data": {"values": [{"val": 1.02}, {"val": 0.98}]}, "mark": {"type": "rule", "color": "#4a4aff", "strokeDash": [2, 3], "strokeWidth": 1.2},
                 "encoding": {"y": {"field": "val", "type": "quantitative"}}},
                {"data": {"values": [{"val": 1.0}]}, "mark": {"type": "rule", "color": "#000000", "strokeDash": [2, 3], "strokeWidth": 1.2},
                 "encoding": {"y": {"field": "val", "type": "quantitative"}}},
                {"data": {"values": [{"eta": -1}, {"eta": 1}]}, "mark": {"type": "rule", "color": "#888888", "strokeDash": [3, 3], "strokeWidth": 0.8},
                 "encoding": {"x": {"field": "eta", "type": "quantitative", "scale": {"domain": [-4.47, 4.38], "nice": false, "zero": false},
                   "axis": {"orient": "bottom", "title": null, "labelPadding": 6, "values": [-4, -3, -2, -1, 0, 1, 2, 3, 4], "labelExpr": "format(datum.value,'d')", "tickSize": -9}},
                   "y": {"datum": 0.95, "type": "quantitative"}, "y2": {"datum": 1.07}}},
                {"data": {"name": "mxr"}, "mark": {"type": "rule"},
                 "encoding": {"x": {"field": "t", "type": "quantitative"}, "y": {"datum": 0.881, "type": "quantitative"}, "y2": {"datum": 0.8897}}},
                {"data": {"name": "myr"}, "mark": {"type": "rule"},
                 "encoding": {"y": {"field": "t", "type": "quantitative"}, "x": {"datum": -4.47, "type": "quantitative"}, "x2": {"datum": -4.392}}},
                {"data": {"name": "labr"}, "mark": {"type": "text", "align": "right", "baseline": "middle", "dx": -5},
                 "encoding": {"y": {"field": "t", "type": "quantitative"}, "x": {"datum": -4.47, "type": "quantitative"}, "text": {"field": "lab"}}},
                {"data": {"name": "rr"}, "mark": {"type": "line", "strokeWidth": 1.2, "clip": true},
                 "encoding": {"x": {"field": "eta", "type": "quantitative"}, "y": {"field": "val", "type": "quantitative"},
                   "color": {"field": "series", "type": "nominal", "scale": {"domain": ["data", "powheg", "sherpa"], "range": ["#000000", "#ff0000", "#0000ff"]}, "legend": null}}},
                {"data": {"name": "rr"}, "mark": {"type": "point", "filled": true, "size": 65, "opacity": 1, "clip": true},
                 "encoding": {"x": {"field": "eta", "type": "quantitative"}, "y": {"field": "val", "type": "quantitative"},
                   "color": {"field": "series", "type": "nominal", "scale": {"domain": ["data", "powheg", "sherpa"], "range": ["#000000", "#ff0000", "#0000ff"]}, "legend": null},
                   "shape": {"field": "series", "type": "nominal", "scale": {"domain": ["data", "powheg", "sherpa"], "range": ["circle", "square", "triangle-down"]}, "legend": null}}},
                {"data": {"name": "rfit"}, "mark": {"type": "line", "strokeWidth": 2.2, "color": "#3a1c6b", "interpolate": "monotone"},
                 "encoding": {"x": {"field": "eta", "type": "quantitative"}, "y": {"field": "val", "type": "quantitative"}}},
                {"data": {"values": [{"eta": 4.03, "val": 0.831, "t": "η"}]}, "mark": {"type": "text", "fontSize": 18, "align": "center", "baseline": "middle"},
                 "encoding": {"x": {"field": "eta", "type": "quantitative"}, "y": {"field": "val", "type": "quantitative"}, "text": {"field": "t"}}},
                {"data": {"values": [{"eta": 4.1, "val": 0.807, "t": "det"}]}, "mark": {"type": "text", "fontSize": 12, "align": "left", "baseline": "middle"},
                 "encoding": {"x": {"field": "eta", "type": "quantitative"}, "y": {"field": "val", "type": "quantitative"}, "text": {"field": "t"}}}
              ]
            },
            {
              "data": {"values": [{"eta": 0, "val": 1}]}, "mark": {"type": "point", "opacity": 0},
              "encoding": {
                "x": {"field": "eta", "type": "quantitative", "axis": {"orient": "top", "title": null, "labels": false,
                  "values": [-4.4,-4.2,-4,-3.8,-3.6,-3.4,-3.2,-3,-2.8,-2.6,-2.4,-2.2,-2,-1.8,-1.6,-1.4,-1.2,-1,-0.8,-0.6,-0.4,-0.2,0,0.2,0.4,0.6,0.8,1,1.2,1.4,1.6,1.8,2,2.2,2.4,2.6,2.8,3,3.2,3.4,3.6,3.8,4,4.2],
                  "tickSize": {"condition": {"test": "abs(datum.value-round(datum.value))<1e-6", "value": -9}, "value": -4}}},
                "y": {"field": "val", "type": "quantitative", "axis": {"orient": "right", "title": null, "labels": false,
                  "values": [0.89,0.9,0.91,0.92,0.93,0.94,0.95,0.96,0.97,0.98,0.99,1,1.01,1.02,1.03,1.04,1.05,1.06],
                  "tickSize": {"condition": {"test": "abs(datum.value*20-round(datum.value*20))<1e-6", "value": -9}, "value": -4}}}
              }
            }
          ],
          "resolve": {"axis": {"x": "independent", "y": "independent"}}
        }
      ]
    }
  ]
}
